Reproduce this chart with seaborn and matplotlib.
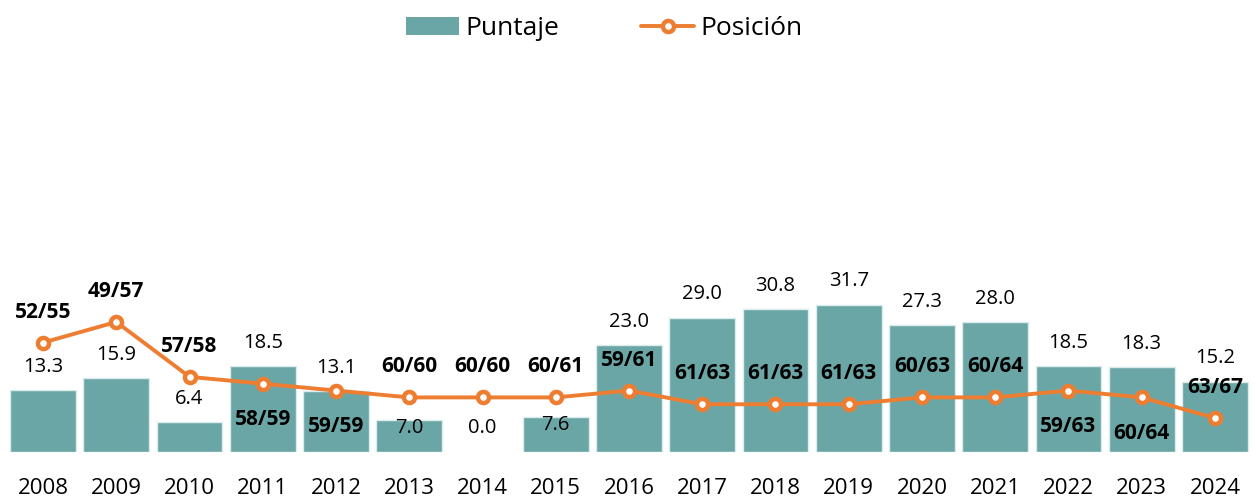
import matplotlib
matplotlib.use('Agg')
import matplotlib.pyplot as plt
from matplotlib.patches import Patch
from matplotlib.lines import Line2D
import numpy as np
import seaborn as sns

years = ['2008', '2009', '2010', '2011', '2012', '2013', '2014', '2015', '2016',
         '2017', '2018', '2019', '2020', '2021', '2022', '2023', '2024']
puntaje = [13.3, 15.9, 6.4, 18.5, 13.1, 7.0, 0.0, 7.6, 23.0,
           29.0, 30.8, 31.7, 27.3, 28.0, 18.5, 18.3, 15.2]
posicion = [52, 49, 57, 58, 59, 60, 60, 60, 59, 61, 61, 61, 60, 60, 59, 60, 63]
total = [55, 57, 58, 59, 59, 60, 60, 61, 61, 63, 63, 63, 63, 64, 63, 64, 67]

# where the labels sit (style only)
pos_label_side = ['up', 'up', 'up', 'down', 'down', 'up', 'up', 'up', 'up',
                  'up', 'up', 'up', 'up', 'up', 'down', 'down', 'up']
bar_label_side = ['out'] * 5 + ['in', 'out', 'in'] + ['out'] * 9

teal = '#6AA6A6'
orange = '#ED7D31'

sns.set_style('white')
plt.rcParams['font.family'] = ['Open Sans', 'DejaVu Sans']
plt.rcParams['text.color'] = '#000000'

fig = plt.figure(figsize=(12.56, 4.99), dpi=100)
ax = fig.add_axes([0.0051, 0.0942, 0.9914, 0.8257])

sns.barplot(x=years, y=puntaje, color=teal, saturation=1, width=0.9,
            edgecolor='#DCEBEB', linewidth=1, ax=ax)
for bar in ax.patches:
    if bar.get_height() == 0:
        bar.set_edgecolor('none')
ax.set_ylim(0, 88.85)
ax.set_xlim(-0.5, len(years) - 0.5)
ax.set_yticks([])
ax.set_ylabel('')
ax.tick_params(axis='x', length=0, pad=19, labelsize=16, colors='#000000')
for s in ax.spines.values():
    s.set_visible(False)

for i, v in enumerate(puntaje):
    off = 17 if bar_label_side[i] == 'out' else -6
    ax.annotate('{:.1f}'.format(v), (i, v), xytext=(0, off), textcoords='offset points',
                ha='center', va='center', fontsize=14.5, color='#000000')

ax2 = ax.twinx()
sns.lineplot(x=np.arange(len(years)), y=posicion, ax=ax2, color=orange, linewidth=2.8,
             marker='o', markersize=8, markerfacecolor='white',
             markeredgecolor=orange, markeredgewidth=3.2)
ax2.set_ylim(67.96, 7.87)
ax2.set_yticks([])
ax2.set_ylabel('')
for s in ax2.spines.values():
    s.set_visible(False)

for i, (p, t) in enumerate(zip(posicion, total)):
    off = 22 if pos_label_side[i] == 'up' else -26
    ax2.annotate('{}/{}'.format(p, t), (i, p), xytext=(0, off), textcoords='offset points',
                 ha='center', va='center', fontsize=15, fontweight='bold', color='#000000')

handles = [Patch(facecolor=teal, edgecolor='none'),
           Line2D([0], [0], color=orange, linewidth=2.8, marker='o', markersize=8,
                  markerfacecolor='white', markeredgecolor=orange, markeredgewidth=3.2)]
leg = fig.legend(handles, ['Puntaje', 'Posición'], loc='center', ncol=2, frameon=False,
                 bbox_to_anchor=(604.5 / 1256, 0.942), fontsize=19, handlelength=2.0,
                 handletextpad=0.25, columnspacing=3.1)
for txt in leg.get_texts():
    txt.set_color('#000000')

fig.savefig('out.png', dpi=100)
